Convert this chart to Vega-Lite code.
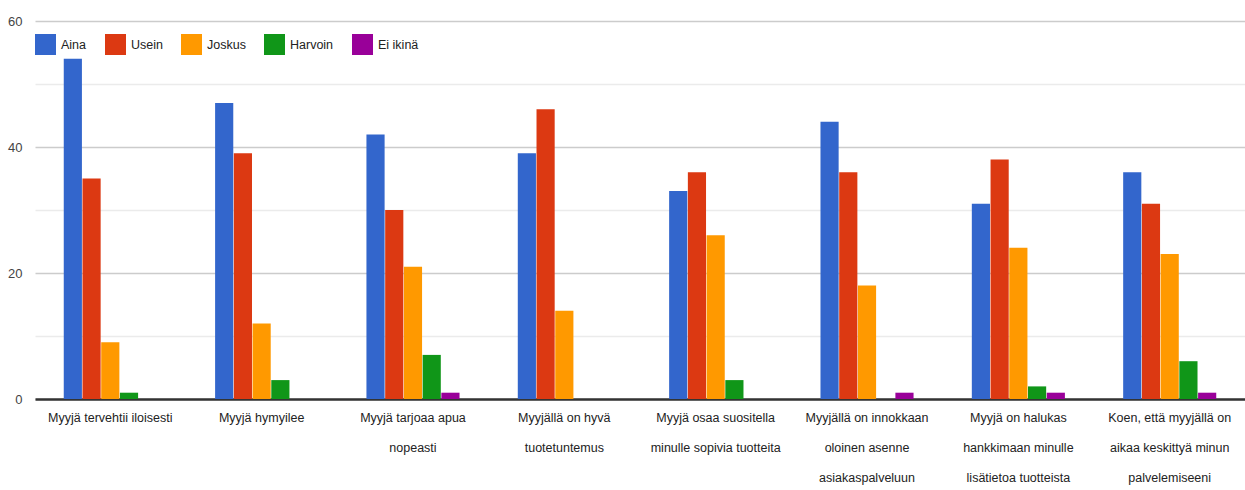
{
  "$schema": "https://vega.github.io/schema/vega-lite/v6.json",
  "width": 1210,
  "height": 378,
  "autosize": "none",
  "padding": {"left": 35, "top": 21, "right": 0, "bottom": 91},
  "background": "white",
  "config": {
    "view": {"stroke": null},
    "font": "Liberation Sans, Arial"
  },
  "data": {
    "values": [
      {"k": "Myyjä tervehtii iloisesti", "s": "Aina", "v": 54},
      {"k": "Myyjä tervehtii iloisesti", "s": "Usein", "v": 35},
      {"k": "Myyjä tervehtii iloisesti", "s": "Joskus", "v": 9},
      {"k": "Myyjä tervehtii iloisesti", "s": "Harvoin", "v": 1},
      {"k": "Myyjä tervehtii iloisesti", "s": "Ei ikinä", "v": 0},
      {"k": "Myyjä hymyilee", "s": "Aina", "v": 47},
      {"k": "Myyjä hymyilee", "s": "Usein", "v": 39},
      {"k": "Myyjä hymyilee", "s": "Joskus", "v": 12},
      {"k": "Myyjä hymyilee", "s": "Harvoin", "v": 3},
      {"k": "Myyjä hymyilee", "s": "Ei ikinä", "v": 0},
      {"k": "Myyjä tarjoaa apua|nopeasti", "s": "Aina", "v": 42},
      {"k": "Myyjä tarjoaa apua|nopeasti", "s": "Usein", "v": 30},
      {"k": "Myyjä tarjoaa apua|nopeasti", "s": "Joskus", "v": 21},
      {"k": "Myyjä tarjoaa apua|nopeasti", "s": "Harvoin", "v": 7},
      {"k": "Myyjä tarjoaa apua|nopeasti", "s": "Ei ikinä", "v": 1},
      {"k": "Myyjällä on hyvä|tuotetuntemus", "s": "Aina", "v": 39},
      {"k": "Myyjällä on hyvä|tuotetuntemus", "s": "Usein", "v": 46},
      {"k": "Myyjällä on hyvä|tuotetuntemus", "s": "Joskus", "v": 14},
      {"k": "Myyjällä on hyvä|tuotetuntemus", "s": "Harvoin", "v": 0},
      {"k": "Myyjällä on hyvä|tuotetuntemus", "s": "Ei ikinä", "v": 0},
      {"k": "Myyjä osaa suositella|minulle sopivia tuotteita", "s": "Aina", "v": 33},
      {"k": "Myyjä osaa suositella|minulle sopivia tuotteita", "s": "Usein", "v": 36},
      {"k": "Myyjä osaa suositella|minulle sopivia tuotteita", "s": "Joskus", "v": 26},
      {"k": "Myyjä osaa suositella|minulle sopivia tuotteita", "s": "Harvoin", "v": 3},
      {"k": "Myyjä osaa suositella|minulle sopivia tuotteita", "s": "Ei ikinä", "v": 0},
      {"k": "Myyjällä on innokkaan|oloinen asenne|asiakaspalveluun", "s": "Aina", "v": 44},
      {"k": "Myyjällä on innokkaan|oloinen asenne|asiakaspalveluun", "s": "Usein", "v": 36},
      {"k": "Myyjällä on innokkaan|oloinen asenne|asiakaspalveluun", "s": "Joskus", "v": 18},
      {"k": "Myyjällä on innokkaan|oloinen asenne|asiakaspalveluun", "s": "Harvoin", "v": 0},
      {"k": "Myyjällä on innokkaan|oloinen asenne|asiakaspalveluun", "s": "Ei ikinä", "v": 1},
      {"k": "Myyjä on halukas|hankkimaan minulle|lisätietoa tuotteista", "s": "Aina", "v": 31},
      {"k": "Myyjä on halukas|hankkimaan minulle|lisätietoa tuotteista", "s": "Usein", "v": 38},
      {"k": "Myyjä on halukas|hankkimaan minulle|lisätietoa tuotteista", "s": "Joskus", "v": 24},
      {"k": "Myyjä on halukas|hankkimaan minulle|lisätietoa tuotteista", "s": "Harvoin", "v": 2},
      {"k": "Myyjä on halukas|hankkimaan minulle|lisätietoa tuotteista", "s": "Ei ikinä", "v": 1},
      {"k": "Koen, että myyjällä on|aikaa keskittyä minun|palvelemiseeni", "s": "Aina", "v": 36},
      {"k": "Koen, että myyjällä on|aikaa keskittyä minun|palvelemiseeni", "s": "Usein", "v": 31},
      {"k": "Koen, että myyjällä on|aikaa keskittyä minun|palvelemiseeni", "s": "Joskus", "v": 23},
      {"k": "Koen, että myyjällä on|aikaa keskittyä minun|palvelemiseeni", "s": "Harvoin", "v": 6},
      {"k": "Koen, että myyjällä on|aikaa keskittyä minun|palvelemiseeni", "s": "Ei ikinä", "v": 1}
    ]
  },
  "mark": {"type": "bar"},
  "encoding": {
    "x": {
      "field": "k",
      "type": "nominal",
      "sort": null,
      "scale": {"paddingInner": 0.385, "paddingOuter": 0.19},
      "axis": {
        "title": null,
        "labelAngle": 0,
        "labelExpr": "split(datum.label, '|')",
        "labelFont": "Liberation Sans, Arial",
        "labelFontSize": 12.5,
        "labelColor": "#222222",
        "labelLineHeight": 30,
        "labelPadding": 12,
        "labelLimit": 0,
        "ticks": false,
        "domainColor": "#333333",
        "domainWidth": 2.5,
        "grid": false
      }
    },
    "xOffset": {
      "field": "s",
      "type": "nominal",
      "sort": ["Aina", "Usein", "Joskus", "Harvoin", "Ei ikinä"],
      "scale": {"paddingInner": 0.03}
    },
    "y": {
      "field": "v",
      "type": "quantitative",
      "scale": {"domain": [0, 60], "nice": false},
      "axis": {
        "title": null,
        "values": [0, 10, 20, 30, 40, 50, 60],
        "labelExpr": "datum.value % 20 == 0 ? datum.label : ''",
        "labelFont": "Liberation Sans, Arial",
        "labelFontSize": 13,
        "labelColor": "#444444",
        "labelPadding": 13,
        "ticks": false,
        "domain": false,
        "grid": true,
        "gridColor": {"condition": {"test": "datum.value % 20 == 0", "value": "#cccccc"}, "value": "#ebebeb"},
        "gridWidth": 1.5
      }
    },
    "color": {
      "field": "s",
      "type": "nominal",
      "sort": ["Aina", "Usein", "Joskus", "Harvoin", "Ei ikinä"],
      "scale": {
        "domain": ["Aina", "Usein", "Joskus", "Harvoin", "Ei ikinä"],
        "range": ["#3366cc", "#dc3912", "#ff9900", "#109618", "#990099"]
      },
      "legend": {
        "title": null,
        "orient": "none",
        "legendX": 0,
        "legendY": 13,
        "direction": "horizontal",
        "symbolType": "square",
        "symbolSize": 441,
        "symbolStrokeWidth": 0,
        "symbolOpacity": 1,
        "labelFont": "Liberation Sans, Arial",
        "labelFontSize": 12.5,
        "labelColor": "#222222",
        "labelOffset": 5,
        "columnPadding": 18
      }
    }
  }
}
